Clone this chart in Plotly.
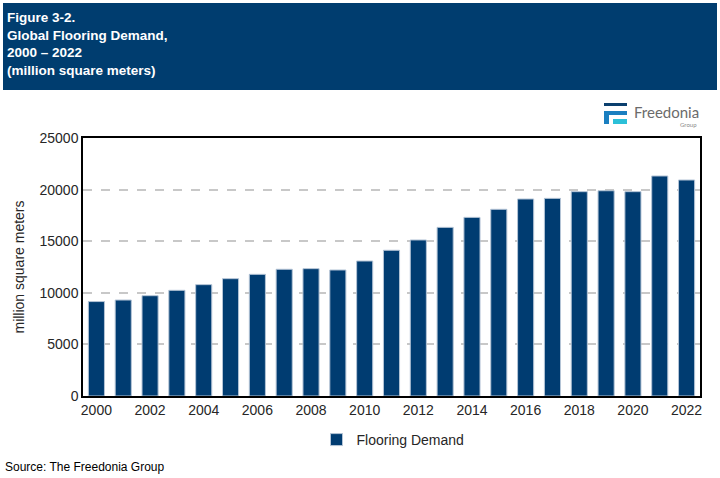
import plotly.graph_objects as go

years = list(range(2000, 2023))
demand = [9150, 9300, 9720, 10240, 10790, 11370, 11790, 12280, 12340, 12210,
          13080, 14120, 15120, 16340, 17310, 18090, 19090, 19150, 19800, 19890,
          19800, 21320, 20930]
series_name = 'Flooring Demand'
title_lines = ['Figure 3-2.', 'Global Flooring Demand,', '2000 \u2013 2022', '(million square meters)']
source_text = 'Source: The Freedonia Group'

navy = '#003c71'
font = 'Liberation Sans'

# plot area in pixels: x 83..700, y 138..396
L, R, T, B = 83, 700, 138, 396
def px(x):
    return (x - L) / (R - L)
def py(y):
    return (B - y) / (B - T)

fig = go.Figure()
fig.add_trace(go.Bar(x=years, y=demand, name=series_name,
                     marker=dict(color=navy, line=dict(color='#b4c4d6', width=1))))

fig.update_layout(
    width=720, height=478,
    margin=dict(l=L, r=720 - R, t=T, b=478 - B),
    paper_bgcolor='white', plot_bgcolor='white',
    font=dict(family=font, size=13, color='#262626'),
    bargap=0.4,
    showlegend=True,
    legend=dict(orientation='h', x=px(393), xanchor='center', y=py(440), yanchor='middle',
                font=dict(size=14, color='#262626'), itemwidth=30),
)
fig.update_xaxes(range=[1999.5, 2022.5], tickmode='linear', tick0=2000, dtick=2,
                 showline=True, mirror=True, linecolor='black', linewidth=1.5,
                 ticks='', showgrid=False, tickfont=dict(size=14))
fig.update_yaxes(range=[0, 25000], dtick=5000, tickformat='d', showline=True, mirror=True,
                 linecolor='black', linewidth=1.5, gridcolor='#c8c8c8', gridwidth=1.5,
                 griddash='dash', tickfont=dict(size=14), zeroline=False,
                 title=dict(text='million square meters', font=dict(size=14), standoff=12))

# header band
fig.add_shape(type='rect', xref='paper', yref='paper', x0=px(3), x1=px(717), y0=py(90), y1=py(3),
              fillcolor='#003d6f', line=dict(width=0), layer='above')
fig.add_annotation(xref='paper', yref='paper', x=px(5), y=py(8), xanchor='left', yanchor='top',
                   align='left', showarrow=False, text='<br>'.join('<b>%s</b>' % t for t in title_lines),
                   font=dict(family=font, size=13.5, color='white'))

# logo
fig.add_shape(type='rect', xref='paper', yref='paper', x0=px(604), x1=px(627), y0=py(106), y1=py(103),
              fillcolor='#0b3f6e', line=dict(width=0))
fig.add_shape(type='rect', xref='paper', yref='paper', x0=px(604), x1=px(627), y0=py(115), y1=py(111),
              fillcolor='#1a7fc0', line=dict(width=0))
fig.add_shape(type='rect', xref='paper', yref='paper', x0=px(604), x1=px(609), y0=py(124), y1=py(111),
              fillcolor='#1a7fc0', line=dict(width=0))
fig.add_shape(type='rect', xref='paper', yref='paper', x0=px(613), x1=px(627), y0=py(124), y1=py(119),
              fillcolor='#2bc0d8', line=dict(width=0))
fig.add_annotation(xref='paper', yref='paper', x=px(632), y=py(112), xanchor='left', yanchor='middle',
                   showarrow=False, text='Freedonia', font=dict(family='Lato', size=15, color='#6b6b6b'))
fig.add_annotation(xref='paper', yref='paper', x=px(699), y=py(125), xanchor='right', yanchor='middle',
                   showarrow=False, text='Group', font=dict(family='Lato', size=6, color='#8a8a8a'))

fig.add_annotation(xref='paper', yref='paper', x=px(3), y=py(467), xanchor='left', yanchor='middle',
                   showarrow=False, text=source_text, font=dict(family=font, size=12, color='black'))

fig.write_html('out.html', config={'displayModeBar': False},
               post_script="document.body.style.margin='0';")
